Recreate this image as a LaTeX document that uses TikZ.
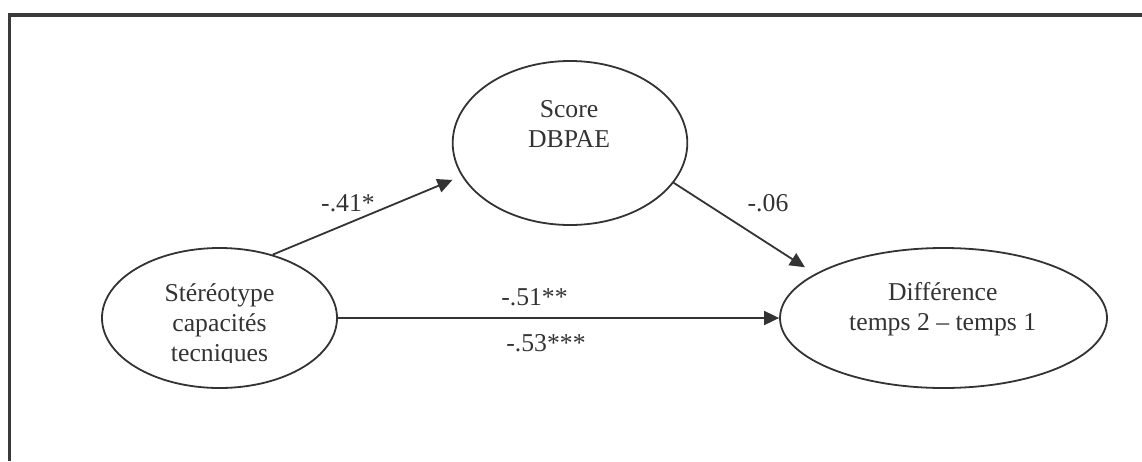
\documentclass[tikz,border=0pt]{standalone}
\usepackage{fontspec}
\setmainfont{Liberation Serif}
\usetikzlibrary{shapes.geometric,arrows.meta}
\definecolor{ink}{HTML}{333333}
\definecolor{framec}{HTML}{3A3A3A}
\begin{document}
\begin{tikzpicture}[x=1pt,y=-1pt,
  every node/.style={font=\fontsize{25.7}{30}\selectfont, text=ink, inner sep=0pt},
  ell/.style={ellipse, draw=ink, line width=1.8pt},
  conn/.style={draw=ink, line width=1.8pt, -{Triangle[length=15pt,width=14pt]}},
  lbl/.style={anchor=base}]
\useasboundingbox (0,0) rectangle (1142,461);
% frame
\draw[framec, line width=3.3pt] (9.5,461) -- (9.5,15) -- (1142,15);
% ellipses
\node[ell, minimum width=235pt, minimum height=140pt] (st) at (219.5,318) {};
\node[ell, minimum width=234.6pt, minimum height=164pt] (sc) at (570,143) {};
\node[ell, minimum width=327pt, minimum height=140pt] (df) at (943.5,318) {};
% texts
\node[lbl] (st1) at (219.5,301) {Stéréotype};
\node[lbl] (st2) at (219.5,331) {capacités};
\begin{scope}
\clip (0,0) rectangle (1142,362);
\node[lbl] (st3) at (219.5,361) {tecniques};
\end{scope}
\node[lbl] (sc1) at (569,117) {Score};
\node[lbl] (sc2) at (569,147) {DBPAE};
\node[lbl] (df1) at (942.7,300) {Différence};
\node[lbl] (df2) at (942.7,330) {temps 2 – temps 1};
% connectors
\draw[conn, shorten >=10pt] (st.50) -- (sc.197);
\draw[conn, shorten >=12pt] (sc.-21.4) -- (df.161.4);
\draw[conn] (st.east) -- (df.west);
% labels
\node[lbl] (l41) at (348,211.7) {-.41*};
\node[lbl] (l06) at (768,211.7) {-.06};
\node[lbl] (l51) at (534.5,305) {-.51**};
\node[lbl] (l53) at (546,351.7) {-.53***};
\end{tikzpicture}
\end{document}
